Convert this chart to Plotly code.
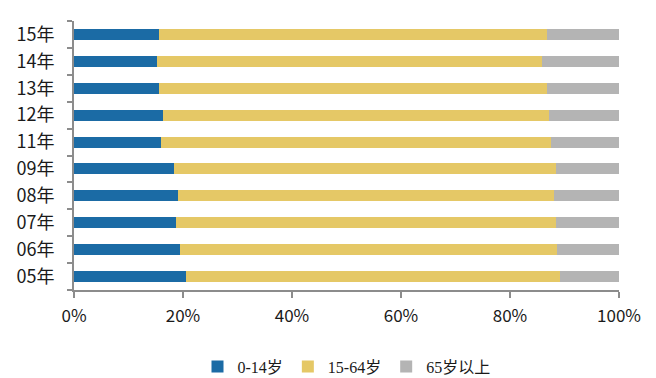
import plotly.graph_objects as go

years = ["05年", "06年", "07年", "08年", "09年", "11年", "12年", "13年", "14年", "15年"]
age_0_14 = [20.6, 19.4, 18.8, 19.0, 18.3, 16.0, 16.3, 15.6, 15.2, 15.6]
age_15_64 = [68.5, 69.2, 69.6, 69.0, 70.1, 71.6, 70.8, 71.1, 70.6, 71.1]
age_65_up = [10.9, 11.4, 11.6, 12.0, 11.6, 12.4, 12.9, 13.3, 14.2, 13.3]

series = [
    ("0-14岁", age_0_14, "#1B6BA5"),
    ("15-64岁", age_15_64, "#E5C866"),
    ("65岁以上", age_65_up, "#B4B4B4"),
]

fig = go.Figure()
for name, vals, color in series:
    fig.add_trace(go.Bar(
        y=years, x=[v / 100 for v in vals], name=name, orientation="h",
        marker=dict(color=color, line=dict(width=0)),
    ))

axis_color = "#8C8C8C"
fig.update_layout(
    barmode="stack",
    bargap=0.59,
    width=656, height=378,
    margin=dict(l=74, r=37, t=21, b=88, autoexpand=False),
    plot_bgcolor="white", paper_bgcolor="white",
    font=dict(family="Noto Sans CJK SC", size=15, color="#1A1A1A"),
    xaxis=dict(
        range=[0, 1], tickvals=[0, 0.2, 0.4, 0.6, 0.8, 1.0], tickformat=".0%",
        showgrid=False, zeroline=False, showline=True, linecolor=axis_color, linewidth=2,
        ticks="outside", ticklen=6, tickwidth=2, tickcolor=axis_color,
        tickfont=dict(family="Noto Sans CJK SC", size=17, color="#1A1A1A"),
        ticklabelstandoff=4,
    ),
    yaxis=dict(
        type="category", showgrid=False, zeroline=False, showline=True,
        linecolor=axis_color, linewidth=2, ticks="outside", ticklen=5, tickwidth=2,
        tickcolor=axis_color, tickson="boundaries",
        tickfont=dict(family="Noto Sans CJK SC", size=18, color="#1A1A1A"),
        ticklabelstandoff=14,
    ),
    legend=dict(
        orientation="h", x=0.5, xanchor="center",
        yref="container", y=0.03, yanchor="middle",
        font=dict(family="Liberation Serif, Noto Sans CJK SC", size=16, color="#1A1A1A"),
        traceorder="normal", itemwidth=30,
    ),
    showlegend=True,
)

fig.write_html("out.html")
